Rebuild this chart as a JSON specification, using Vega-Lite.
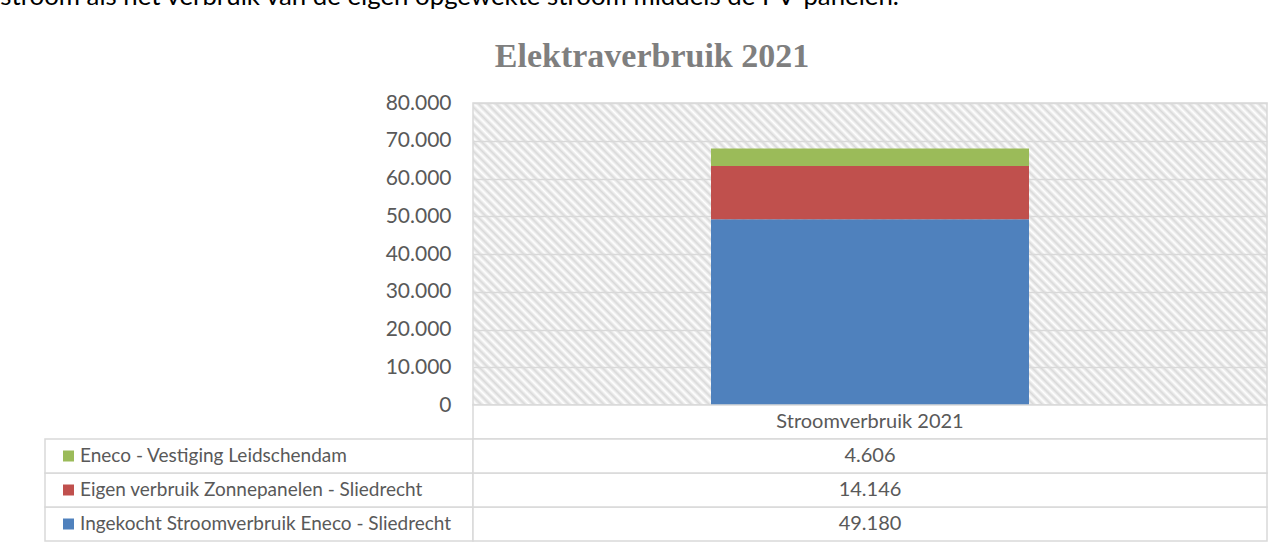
{
  "$schema": "https://vega.github.io/schema/vega-lite/v6.json",
  "padding": {"left": 0, "top": -16, "right": 0, "bottom": 0},
  "background": "#ffffff",
  "datasets": {
    "stroom": [
      {"categorie": "Stroomverbruik 2021", "reeks": "Ingekocht Stroomverbruik Eneco - Sliedrecht", "kWh": 49180, "volgorde": 3},
      {"categorie": "Stroomverbruik 2021", "reeks": "Eigen verbruik Zonnepanelen - Sliedrecht", "kWh": 14146, "volgorde": 2},
      {"categorie": "Stroomverbruik 2021", "reeks": "Eneco - Vestiging Leidschendam", "kWh": 4606, "volgorde": 1}
    ]
  },
  "title": {
    "text": "stroom als het verbruik van de eigen opgewekte stroom middels de PV-panelen.",
    "anchor": "start", "frame": "bounds", "dx": -44,
    "font": "Lato", "fontSize": 25.8, "fontWeight": "normal", "color": "#000000",
    "baseline": "alphabetic", "offset": 8
  },
  "columns": 2,
  "spacing": 0,
  "bounds": "flush",
  "concat": [
    {
      "width": 428, "height": 302,
      "data": {"values": []},
      "mark": "point",
      "encoding": {}
    },
    {
      "width": 794, "height": 302,
      "data": {"name": "stroom"},
      "view": {"stroke": "#d9d9d9", "strokeWidth": 1.5, "fill": {"gradient": "linear", "x1": 0, "y1": 1, "x2": 1.2059, "y2": 0.5413, "stops": [
        {"offset":0,"color":"#d9d9d9"},{"offset":0.004,"color":"#fff"},{"offset":0.008,"color":"#d9d9d9"},{"offset":0.012,"color":"#fff"},{"offset":0.016,"color":"#d9d9d9"},{"offset":0.02,"color":"#fff"},{"offset":0.024,"color":"#d9d9d9"},{"offset":0.028,"color":"#fff"},{"offset":0.032,"color":"#d9d9d9"},{"offset":0.036,"color":"#fff"},
        {"offset":0.04,"color":"#d9d9d9"},{"offset":0.044,"color":"#fff"},{"offset":0.048,"color":"#d9d9d9"},{"offset":0.052,"color":"#fff"},{"offset":0.056,"color":"#d9d9d9"},{"offset":0.06,"color":"#fff"},{"offset":0.064,"color":"#d9d9d9"},{"offset":0.068,"color":"#fff"},{"offset":0.072,"color":"#d9d9d9"},{"offset":0.076,"color":"#fff"},
        {"offset":0.08,"color":"#d9d9d9"},{"offset":0.084,"color":"#fff"},{"offset":0.088,"color":"#d9d9d9"},{"offset":0.092,"color":"#fff"},{"offset":0.096,"color":"#d9d9d9"},{"offset":0.1,"color":"#fff"},{"offset":0.104,"color":"#d9d9d9"},{"offset":0.108,"color":"#fff"},{"offset":0.112,"color":"#d9d9d9"},{"offset":0.116,"color":"#fff"},
        {"offset":0.12,"color":"#d9d9d9"},{"offset":0.124,"color":"#fff"},{"offset":0.128,"color":"#d9d9d9"},{"offset":0.132,"color":"#fff"},{"offset":0.136,"color":"#d9d9d9"},{"offset":0.14,"color":"#fff"},{"offset":0.144,"color":"#d9d9d9"},{"offset":0.148,"color":"#fff"},{"offset":0.152,"color":"#d9d9d9"},{"offset":0.156,"color":"#fff"},
        {"offset":0.16,"color":"#d9d9d9"},{"offset":0.164,"color":"#fff"},{"offset":0.168,"color":"#d9d9d9"},{"offset":0.172,"color":"#fff"},{"offset":0.176,"color":"#d9d9d9"},{"offset":0.18,"color":"#fff"},{"offset":0.184,"color":"#d9d9d9"},{"offset":0.188,"color":"#fff"},{"offset":0.192,"color":"#d9d9d9"},{"offset":0.196,"color":"#fff"},
        {"offset":0.2,"color":"#d9d9d9"},{"offset":0.204,"color":"#fff"},{"offset":0.208,"color":"#d9d9d9"},{"offset":0.212,"color":"#fff"},{"offset":0.216,"color":"#d9d9d9"},{"offset":0.22,"color":"#fff"},{"offset":0.224,"color":"#d9d9d9"},{"offset":0.228,"color":"#fff"},{"offset":0.232,"color":"#d9d9d9"},{"offset":0.236,"color":"#fff"},
        {"offset":0.24,"color":"#d9d9d9"},{"offset":0.244,"color":"#fff"},{"offset":0.248,"color":"#d9d9d9"},{"offset":0.252,"color":"#fff"},{"offset":0.256,"color":"#d9d9d9"},{"offset":0.26,"color":"#fff"},{"offset":0.264,"color":"#d9d9d9"},{"offset":0.268,"color":"#fff"},{"offset":0.272,"color":"#d9d9d9"},{"offset":0.276,"color":"#fff"},
        {"offset":0.28,"color":"#d9d9d9"},{"offset":0.284,"color":"#fff"},{"offset":0.288,"color":"#d9d9d9"},{"offset":0.292,"color":"#fff"},{"offset":0.296,"color":"#d9d9d9"},{"offset":0.3,"color":"#fff"},{"offset":0.304,"color":"#d9d9d9"},{"offset":0.308,"color":"#fff"},{"offset":0.312,"color":"#d9d9d9"},{"offset":0.316,"color":"#fff"},
        {"offset":0.32,"color":"#d9d9d9"},{"offset":0.324,"color":"#fff"},{"offset":0.328,"color":"#d9d9d9"},{"offset":0.332,"color":"#fff"},{"offset":0.336,"color":"#d9d9d9"},{"offset":0.34,"color":"#fff"},{"offset":0.344,"color":"#d9d9d9"},{"offset":0.348,"color":"#fff"},{"offset":0.352,"color":"#d9d9d9"},{"offset":0.356,"color":"#fff"},
        {"offset":0.36,"color":"#d9d9d9"},{"offset":0.364,"color":"#fff"},{"offset":0.368,"color":"#d9d9d9"},{"offset":0.372,"color":"#fff"},{"offset":0.376,"color":"#d9d9d9"},{"offset":0.38,"color":"#fff"},{"offset":0.384,"color":"#d9d9d9"},{"offset":0.388,"color":"#fff"},{"offset":0.392,"color":"#d9d9d9"},{"offset":0.396,"color":"#fff"},
        {"offset":0.4,"color":"#d9d9d9"},{"offset":0.404,"color":"#fff"},{"offset":0.408,"color":"#d9d9d9"},{"offset":0.412,"color":"#fff"},{"offset":0.416,"color":"#d9d9d9"},{"offset":0.42,"color":"#fff"},{"offset":0.424,"color":"#d9d9d9"},{"offset":0.428,"color":"#fff"},{"offset":0.432,"color":"#d9d9d9"},{"offset":0.436,"color":"#fff"},
        {"offset":0.44,"color":"#d9d9d9"},{"offset":0.444,"color":"#fff"},{"offset":0.448,"color":"#d9d9d9"},{"offset":0.452,"color":"#fff"},{"offset":0.456,"color":"#d9d9d9"},{"offset":0.46,"color":"#fff"},{"offset":0.464,"color":"#d9d9d9"},{"offset":0.468,"color":"#fff"},{"offset":0.472,"color":"#d9d9d9"},{"offset":0.476,"color":"#fff"},
        {"offset":0.48,"color":"#d9d9d9"},{"offset":0.484,"color":"#fff"},{"offset":0.488,"color":"#d9d9d9"},{"offset":0.492,"color":"#fff"},{"offset":0.496,"color":"#d9d9d9"},{"offset":0.5,"color":"#fff"},{"offset":0.504,"color":"#d9d9d9"},{"offset":0.508,"color":"#fff"},{"offset":0.512,"color":"#d9d9d9"},{"offset":0.516,"color":"#fff"},
        {"offset":0.52,"color":"#d9d9d9"},{"offset":0.524,"color":"#fff"},{"offset":0.528,"color":"#d9d9d9"},{"offset":0.532,"color":"#fff"},{"offset":0.536,"color":"#d9d9d9"},{"offset":0.54,"color":"#fff"},{"offset":0.544,"color":"#d9d9d9"},{"offset":0.548,"color":"#fff"},{"offset":0.552,"color":"#d9d9d9"},{"offset":0.556,"color":"#fff"},
        {"offset":0.56,"color":"#d9d9d9"},{"offset":0.564,"color":"#fff"},{"offset":0.568,"color":"#d9d9d9"},{"offset":0.572,"color":"#fff"},{"offset":0.576,"color":"#d9d9d9"},{"offset":0.58,"color":"#fff"},{"offset":0.584,"color":"#d9d9d9"},{"offset":0.588,"color":"#fff"},{"offset":0.592,"color":"#d9d9d9"},{"offset":0.596,"color":"#fff"},
        {"offset":0.6,"color":"#d9d9d9"},{"offset":0.604,"color":"#fff"},{"offset":0.608,"color":"#d9d9d9"},{"offset":0.612,"color":"#fff"},{"offset":0.616,"color":"#d9d9d9"},{"offset":0.62,"color":"#fff"},{"offset":0.624,"color":"#d9d9d9"},{"offset":0.628,"color":"#fff"},{"offset":0.632,"color":"#d9d9d9"},{"offset":0.636,"color":"#fff"},
        {"offset":0.64,"color":"#d9d9d9"},{"offset":0.644,"color":"#fff"},{"offset":0.648,"color":"#d9d9d9"},{"offset":0.652,"color":"#fff"},{"offset":0.656,"color":"#d9d9d9"},{"offset":0.66,"color":"#fff"},{"offset":0.664,"color":"#d9d9d9"},{"offset":0.668,"color":"#fff"},{"offset":0.672,"color":"#d9d9d9"},{"offset":0.676,"color":"#fff"},
        {"offset":0.68,"color":"#d9d9d9"},{"offset":0.684,"color":"#fff"},{"offset":0.688,"color":"#d9d9d9"},{"offset":0.692,"color":"#fff"},{"offset":0.696,"color":"#d9d9d9"},{"offset":0.7,"color":"#fff"},{"offset":0.704,"color":"#d9d9d9"},{"offset":0.708,"color":"#fff"},{"offset":0.712,"color":"#d9d9d9"},{"offset":0.716,"color":"#fff"},
        {"offset":0.72,"color":"#d9d9d9"},{"offset":0.724,"color":"#fff"},{"offset":0.728,"color":"#d9d9d9"},{"offset":0.732,"color":"#fff"},{"offset":0.736,"color":"#d9d9d9"},{"offset":0.74,"color":"#fff"},{"offset":0.744,"color":"#d9d9d9"},{"offset":0.748,"color":"#fff"},{"offset":0.752,"color":"#d9d9d9"},{"offset":0.756,"color":"#fff"},
        {"offset":0.76,"color":"#d9d9d9"},{"offset":0.764,"color":"#fff"},{"offset":0.768,"color":"#d9d9d9"},{"offset":0.772,"color":"#fff"},{"offset":0.776,"color":"#d9d9d9"},{"offset":0.78,"color":"#fff"},{"offset":0.784,"color":"#d9d9d9"},{"offset":0.788,"color":"#fff"},{"offset":0.792,"color":"#d9d9d9"},{"offset":0.796,"color":"#fff"},
        {"offset":0.8,"color":"#d9d9d9"},{"offset":0.804,"color":"#fff"},{"offset":0.808,"color":"#d9d9d9"},{"offset":0.812,"color":"#fff"},{"offset":0.816,"color":"#d9d9d9"},{"offset":0.82,"color":"#fff"},{"offset":0.824,"color":"#d9d9d9"},{"offset":0.828,"color":"#fff"},{"offset":0.832,"color":"#d9d9d9"},{"offset":0.836,"color":"#fff"},
        {"offset":0.84,"color":"#d9d9d9"},{"offset":0.844,"color":"#fff"},{"offset":0.848,"color":"#d9d9d9"},{"offset":0.852,"color":"#fff"},{"offset":0.856,"color":"#d9d9d9"},{"offset":0.86,"color":"#fff"},{"offset":0.864,"color":"#d9d9d9"},{"offset":0.868,"color":"#fff"},{"offset":0.872,"color":"#d9d9d9"},{"offset":0.876,"color":"#fff"},
        {"offset":0.88,"color":"#d9d9d9"},{"offset":0.884,"color":"#fff"},{"offset":0.888,"color":"#d9d9d9"},{"offset":0.892,"color":"#fff"},{"offset":0.896,"color":"#d9d9d9"},{"offset":0.9,"color":"#fff"},{"offset":0.904,"color":"#d9d9d9"},{"offset":0.908,"color":"#fff"},{"offset":0.912,"color":"#d9d9d9"},{"offset":0.916,"color":"#fff"},
        {"offset":0.92,"color":"#d9d9d9"},{"offset":0.924,"color":"#fff"},{"offset":0.928,"color":"#d9d9d9"},{"offset":0.932,"color":"#fff"},{"offset":0.936,"color":"#d9d9d9"},{"offset":0.94,"color":"#fff"},{"offset":0.944,"color":"#d9d9d9"},{"offset":0.948,"color":"#fff"},{"offset":0.952,"color":"#d9d9d9"},{"offset":0.956,"color":"#fff"},
        {"offset":0.96,"color":"#d9d9d9"},{"offset":0.964,"color":"#fff"},{"offset":0.968,"color":"#d9d9d9"},{"offset":0.972,"color":"#fff"},{"offset":0.976,"color":"#d9d9d9"},{"offset":0.98,"color":"#fff"},{"offset":0.984,"color":"#d9d9d9"},{"offset":0.988,"color":"#fff"},{"offset":0.992,"color":"#d9d9d9"},{"offset":0.996,"color":"#fff"},
        {"offset":1,"color":"#d9d9d9"}
      ]}},
      "title": {
        "text": "Elektraverbruik 2021", "anchor": "middle", "frame": "group", "dx": -218,
        "font": "Liberation Serif", "fontSize": 34, "fontWeight": "bold", "color": "#7f7f7f",
        "baseline": "alphabetic", "offset": -9
      },
      "mark": {"type": "bar", "width": 318},
      "encoding": {
        "x": {"field": "categorie", "type": "nominal", "axis": null},
        "y": {
          "field": "kWh", "type": "quantitative", "stack": "zero",
          "scale": {"domain": [0, 80000], "nice": false},
          "axis": {
            "values": [0, 10000, 20000, 30000, 40000, 50000, 60000, 70000, 80000],
            "format": ",d", "title": null, "grid": true, "gridColor": "#d9d9d9", "gridWidth": 1.5,
            "domain": false, "ticks": false, "labelFont": "Lato", "labelFontSize": 21,
            "labelColor": "#595959", "labelPadding": 22
          }
        },
        "color": {
          "field": "reeks", "type": "nominal", "legend": null,
          "scale": {
            "domain": ["Eneco - Vestiging Leidschendam", "Eigen verbruik Zonnepanelen - Sliedrecht", "Ingekocht Stroomverbruik Eneco - Sliedrecht"],
            "range": ["#9bbb59", "#c0504d", "#4f81bd"]
          }
        },
        "order": {"field": "volgorde", "sort": "descending"}
      }
    },
    {
      "width": 428, "height": 136,
      "data": {"name": "stroom"},
      "layer": [
        {
          "mark": {"type": "rect", "fill": "#ffffff", "stroke": "#d9d9d9", "strokeWidth": 1.5},
          "encoding": {
            "y": {"field": "reeks", "type": "nominal", "axis": null,
              "scale": {"type": "band", "paddingInner": 0, "paddingOuter": 0,
                "domain": ["Stroomverbruik 2021", "Eneco - Vestiging Leidschendam", "Eigen verbruik Zonnepanelen - Sliedrecht", "Ingekocht Stroomverbruik Eneco - Sliedrecht"]}}
          }
        },
        {
          "mark": {"type": "point", "shape": "square", "filled": true, "size": 121, "opacity": 1, "xOffset": -190.5},
          "encoding": {
            "y": {"field": "reeks", "type": "nominal", "axis": null},
            "color": {
              "field": "reeks", "type": "nominal", "legend": null,
              "scale": {
                "domain": ["Eneco - Vestiging Leidschendam", "Eigen verbruik Zonnepanelen - Sliedrecht", "Ingekocht Stroomverbruik Eneco - Sliedrecht"],
                "range": ["#9bbb59", "#c0504d", "#4f81bd"]
              }
            }
          }
        },
        {
          "mark": {"type": "text", "align": "left", "baseline": "middle", "dx": -179, "font": "Lato", "fontSize": 19, "color": "#595959"},
          "encoding": {
            "y": {"field": "reeks", "type": "nominal", "axis": null},
            "text": {"field": "reeks", "type": "nominal"}
          }
        }
      ]
    },
    {
      "width": 794, "height": 136,
      "data": {"name": "stroom"},
      "layer": [
        {
          "transform": [{"aggregate": [{"op": "sum", "field": "kWh", "as": "totaal"}], "groupby": ["categorie"]}],
          "layer": [
            {
              "mark": {"type": "rect", "fill": "#ffffff", "stroke": "#d9d9d9", "strokeWidth": 1.5},
              "encoding": {
                "y": {"field": "categorie", "type": "nominal", "axis": null,
                  "scale": {"type": "band", "paddingInner": 0, "paddingOuter": 0,
                    "domain": ["Stroomverbruik 2021", "Eneco - Vestiging Leidschendam", "Eigen verbruik Zonnepanelen - Sliedrecht", "Ingekocht Stroomverbruik Eneco - Sliedrecht"]}}
              }
            },
            {
              "mark": {"type": "text", "align": "center", "baseline": "middle", "font": "Lato", "fontSize": 20, "color": "#595959"},
              "encoding": {
                "y": {"field": "categorie", "type": "nominal", "axis": null},
                "text": {"field": "categorie", "type": "nominal"}
              }
            }
          ]
        },
        {
          "mark": {"type": "rect", "fill": "#ffffff", "stroke": "#d9d9d9", "strokeWidth": 1.5},
          "encoding": {
            "y": {"field": "reeks", "type": "nominal", "axis": null}
          }
        },
        {
          "mark": {"type": "text", "align": "center", "baseline": "middle", "font": "Lato", "fontSize": 20, "color": "#595959"},
          "encoding": {
            "y": {"field": "reeks", "type": "nominal", "axis": null},
            "text": {"field": "kWh", "type": "quantitative", "format": ",d"}
          }
        }
      ]
    }
  ],
  "config": {
    "view": {"stroke": null},
    "font": "Lato",
    "locale": {"number": {"decimal": ",", "thousands": ".", "grouping": [3], "currency": ["€", ""]}}
  }
}
